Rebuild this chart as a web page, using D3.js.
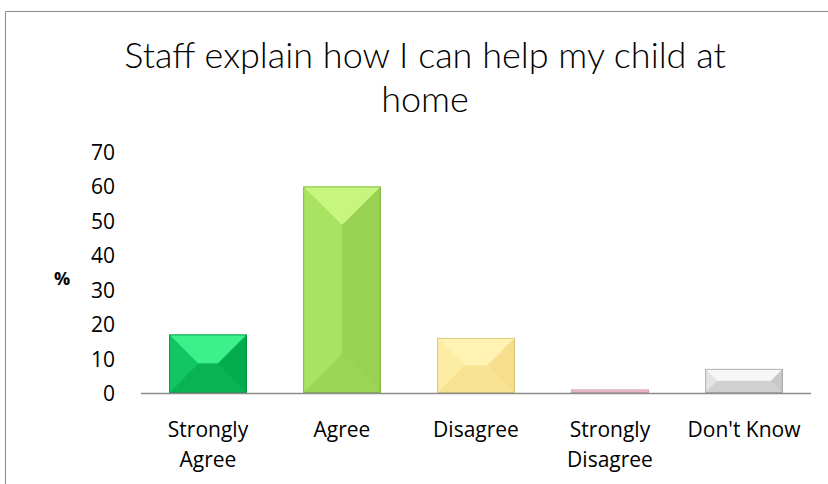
<!DOCTYPE html>
<html><head><meta charset="utf-8">
<script src="https://cdn.jsdelivr.net/npm/d3@7"></script>
<style>body{margin:0;background:#fff}svg{display:block}</style>
</head><body><svg id="c" width="828" height="484"></svg>
<script>
const categories = [["Strongly","Agree"],["Agree"],["Disagree"],["Strongly","Disagree"],["Don't Know"]];
const values = [17, 60, 16, 1, 7];
const yTicks = [0,10,20,30,40,50,60,70];
const titleLines = ["Staff explain how I can help my child at","home"];
const palettes = [
  {main:"#0cbf5c", top:"#3cf08c", left:"#12c664", right:"#04ac4e", bottom:"#0ab254", edge:"#00823a"},
  {main:"#a2dc5a", top:"#c6f67e", left:"#aae262", right:"#98d250", bottom:"#9cd654", edge:"#6f9f38"},
  {main:"#fde89c", top:"#fff2b2", left:"#fdeca4", right:"#f6de8c", bottom:"#f8e294", edge:"#c8b060"},
  {main:"#eab8c6", top:"#f8d2dc", left:"#ecbccc", right:"#dca8b8", bottom:"#e4b0c0", edge:"#b88898"},
  {main:"#d6d6d6", top:"#f6f6f6", left:"#e4e4e4", right:"#c8c8c8", bottom:"#d0d0d0", edge:"#8c8c8c"}
];

const svg = d3.select("#c");
const m = {left:141, right:811, top:152, bottom:393};
const x = d3.scaleBand().domain(d3.range(categories.length)).range([m.left, m.right]).paddingInner(0.42).paddingOuter(0.21);
const y = d3.scaleLinear().domain([0,70]).range([m.bottom, m.top]);
const font = "'Open Sans', 'Liberation Sans', sans-serif";

// frame
svg.append("path").attr("d","M5.5,484 V11.5 H828").attr("fill","none").attr("stroke","#8a8a8a").attr("stroke-width",1);

// title
const t = svg.append("text").attr("text-anchor","middle").attr("font-family","Lato, 'Open Sans', sans-serif")
  .attr("font-weight",300).attr("font-size",36).attr("fill","#000");
titleLines.forEach((l,i)=>t.append("tspan").attr("x",425).attr("y",68+i*44).text(l));

// y axis
const ya = svg.append("g").attr("transform",`translate(${m.left-26},0)`)
  .call(d3.axisLeft(y).tickValues(yTicks).tickSize(0).tickPadding(0));
ya.select(".domain").remove();
ya.selectAll("text").attr("font-family",font).attr("font-size",21).attr("fill","#000").attr("dy","0.36em");
svg.append("text").attr("x",62).attr("y",285).attr("text-anchor","middle")
  .attr("font-family",font).attr("font-weight","bold").attr("font-size",18).text("%");

// bars with bevel
const g = svg.append("g");
values.forEach((v,i)=>{
  const x0 = x(i), x1 = x(i)+x.bandwidth(), y0 = y(v), y1 = y(0);
  const w = x1-x0, h = y1-y0, p = palettes[i];
  const b = Math.min(w,h)/2*0.98;
  const bg = g.append("g");
  bg.append("rect").attr("x",x0).attr("y",y0).attr("width",w).attr("height",h).attr("fill",p.main);
  const poly = (pts,c)=>bg.append("polygon").attr("points",pts.map(d=>d.join(",")).join(" ")).attr("fill",c);
  poly([[x0,y0],[x1,y0],[x1-b,y0+b],[x0+b,y0+b]],p.top);
  poly([[x0,y0],[x0+b,y0+b],[x0+b,y1-b],[x0,y1]],p.left);
  poly([[x1,y0],[x1,y1],[x1-b,y1-b],[x1-b,y0+b]],p.right);
  poly([[x0,y1],[x1,y1],[x1-b,y1-b],[x0+b,y1-b]],p.bottom);
  bg.append("rect").attr("x",x0+0.5).attr("y",y0+0.5).attr("width",w-1).attr("height",Math.max(0,h-1))
    .attr("fill","none").attr("stroke",p.edge).attr("stroke-width",1).attr("stroke-opacity",0.6);
});

// x axis
svg.append("line").attr("x1",m.left).attr("x2",m.right).attr("y1",m.bottom+0.5).attr("y2",m.bottom+0.5).attr("stroke","#8c8c8c").attr("stroke-width",1.5);
categories.forEach((c,i)=>{
  const tx = svg.append("text").attr("text-anchor","middle").attr("font-family",font).attr("font-size",21).attr("fill","#000");
  c.forEach((l,j)=>tx.append("tspan").attr("x",x(i)+x.bandwidth()/2).attr("y",437+j*30).text(l));
});
</script></body></html>
